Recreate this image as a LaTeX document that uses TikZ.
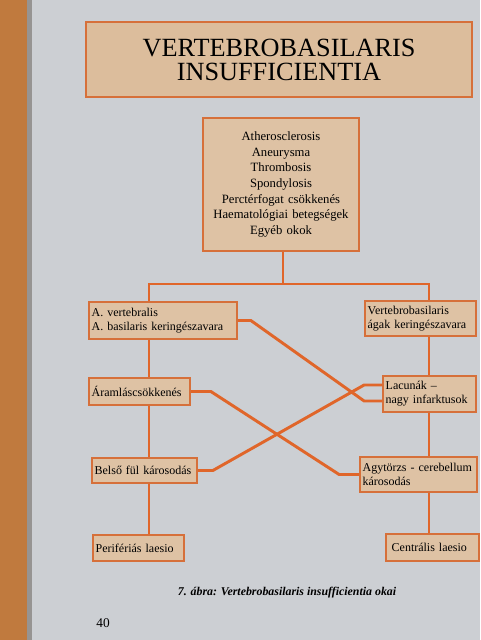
\documentclass[tikz,border=0pt]{standalone}
\usepackage{fontspec}
\setmainfont{Liberation Serif}
\usepackage{tikz}
\usepackage{xcolor}

\definecolor{pagegrey}{RGB}{204,207,211}
\definecolor{woodbrown}{RGB}{192,122,62}
\definecolor{edgegrey}{RGB}{150,148,146}
\definecolor{boxfill}{RGB}{222,194,164}
\definecolor{boxedge}{RGB}{214,112,58}
\definecolor{linkorange}{RGB}{224,102,42}

\begin{document}
\begin{tikzpicture}[x=0.75pt,y=0.75pt,yscale=-1,xscale=1,
  boxnode/.style={draw=boxedge, fill=boxfill, line width=1.3pt, inner xsep=2pt, inner ysep=1pt, align=left, font=\fontsize{9}{10.5}\selectfont},
  linkline/.style={draw=linkorange, line width=2.2pt}]
%set diagram to the photographed page, 480 x 640
\useasboundingbox (0,0) rectangle (480,640);

%Shape: Rectangle (page)
\fill[pagegrey] (0,0) rectangle (480,640);
%Shape: Rectangle (wooden edge)
\fill[woodbrown] (0,0) rectangle (27,640);
\fill[edgegrey] (27,0) rectangle (32,640);

% Title Node
\node[boxnode, line width=1.5pt, fill=boxfill!92!brown, align=center, text width=285pt, minimum height=56pt, font=\fontsize{19.7}{18}\selectfont] (title) at (279,59.5) {VERTEBROBASILARIS\\INSUFFICIENTIA};

% Text Node
\node[boxnode, align=center, text width=113pt, minimum height=99.75pt, font=\fontsize{9.5}{11.7}\selectfont] (causes) at (281,184.5) {Atherosclerosis\\Aneurysma\\Thrombosis\\Spondylosis\\Perctérfogat csökkenés\\Haematológiai betegségek\\Egyéb okok};

% Text Node
\node[boxnode, text width=107pt, minimum height=27.75pt] (vert) at (163,320.5) {A. vertebralis\\A. basilaris keringészavara};
% Text Node
\node[boxnode, text width=79.25pt, minimum height=26.25pt] (vbag) at (420.5,318.5) {Vertebrobasilaris\\ágak keringészavara};
% Text Node
\node[boxnode, text width=71.75pt, minimum height=20.25pt] (aram) at (139.5,391.5) {Áramláscsökkenés};
% Text Node
\node[boxnode, text width=65.75pt, minimum height=27pt] (lacun) at (429.5,394) {Lacunák –\\nagy infarktusok};
% Text Node
\node[boxnode, text width=74.75pt, minimum height=18.75pt] (belso) at (144.5,470.5) {Belső fül károsodás};
% Text Node
\node[boxnode, text width=83.75pt, minimum height=26.25pt] (agy) at (418.5,474.5) {Agytörzs - cerebellum\\károsodás};
% Text Node
\node[boxnode, text width=64.25pt, minimum height=19.5pt] (perif) at (138.5,548) {Perifériás laesio};
% Text Node
\node[boxnode, text width=61.25pt, minimum height=20.25pt, inner xsep=4pt] (centr) at (432.5,547.5) {Centrális laesio};

%Straight Lines
\coordinate (topjoin) at (283,284);
\coordinate (leftjoin) at (149,284);
\coordinate (rightjoin) at (429,284);
\draw[linkline] (topjoin |- causes.south) -- (topjoin);
\draw[linkline] (leftjoin |- vert.north) -- (leftjoin) -- (rightjoin) -- (rightjoin |- vbag.north);
\draw[linkline] (leftjoin |- vert.south) -- (leftjoin |- aram.north);
\draw[linkline] (leftjoin |- aram.south) -- (leftjoin |- belso.north);
\draw[linkline] (leftjoin |- belso.south) -- (leftjoin |- perif.north);
\draw[linkline] (rightjoin |- vbag.south) -- (rightjoin |- lacun.north);
\draw[linkline] (rightjoin |- lacun.south) -- (rightjoin |- agy.north);
\draw[linkline] (rightjoin |- agy.south) -- (rightjoin |- centr.north);
%Crossing Lines
\draw[linkline] (vert.east) -- ++(13,0) -- ([xshift=-13.5pt,yshift=5.25pt]lacun.west) -- ([yshift=5.25pt]lacun.west);
\draw[linkline] (aram.east) -- ++(20,0) -- ([xshift=-15pt]agy.west) -- (agy.west);
\draw[linkline] (belso.east) -- ++(15,0) -- ([xshift=-13.5pt,yshift=-6.75pt]lacun.west) -- ([yshift=-6.75pt]lacun.west);

% Caption Node
\node[font=\fontsize{8.9}{10}\selectfont\bfseries\itshape] (caption) at (287,593) {7. ábra: Vertebrobasilaris insufficientia okai};
% Page Number
\node[font=\fontsize{10}{12}\selectfont] (pagenum) at (103,623) {40};

\end{tikzpicture}
\end{document}
